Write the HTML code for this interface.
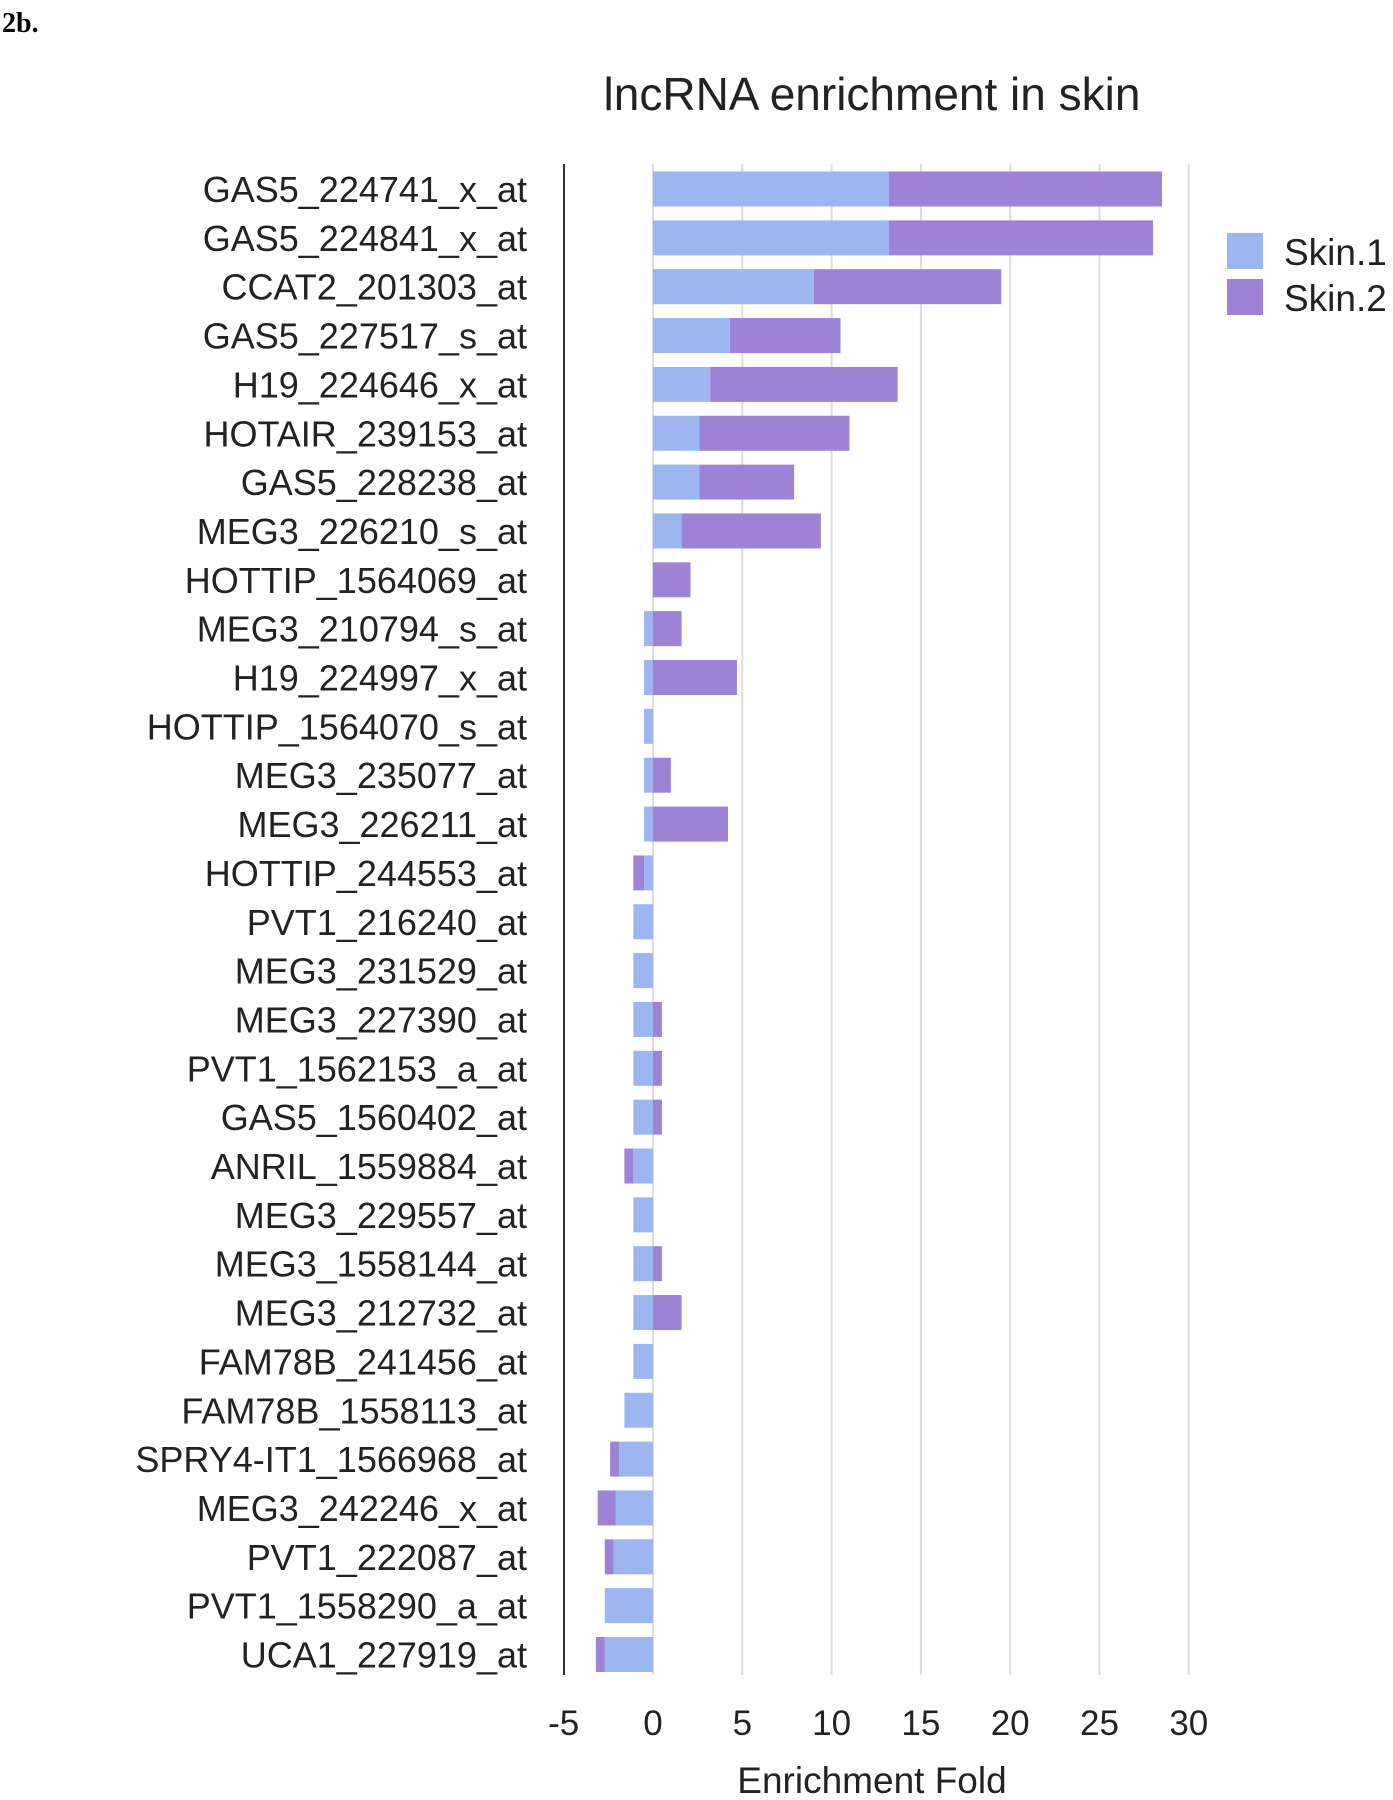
<!DOCTYPE html>
<html><head><meta charset="utf-8"><style>
body{margin:0;background:#fff;}
svg{display:block;font-family:"Liberation Sans",sans-serif;}
</style></head><body>
<svg id="chart" width="1393" height="1800" viewBox="0 0 1393 1800">
<text x="2" y="32" font-family="Liberation Serif" font-weight="bold" font-size="28">2b.</text>
<text x="872" y="110" text-anchor="middle" font-size="46" fill="#222">lncRNA enrichment in skin</text>
<g id="grid"></g><g id="bars"></g><g id="labels"></g><g id="ticks"></g>
<line x1="564" y1="164" x2="564" y2="1675" stroke="#333" stroke-width="2"/>
<text x="872" y="1793" text-anchor="middle" font-size="37" fill="#222">Enrichment Fold</text>
<g>
<rect x="1227" y="233" width="36" height="36" fill="#9db6f2"/>
<text x="1284" y="265" font-size="37" fill="#222">Skin.1</text>
<rect x="1227" y="279" width="36" height="36" fill="#9e82d6"/>
<text x="1284" y="311" font-size="37" fill="#222">Skin.2</text>
</g>
</svg>
<script>
const categories=["GAS5_224741_x_at","GAS5_224841_x_at","CCAT2_201303_at","GAS5_227517_s_at","H19_224646_x_at","HOTAIR_239153_at","GAS5_228238_at","MEG3_226210_s_at","HOTTIP_1564069_at","MEG3_210794_s_at","H19_224997_x_at","HOTTIP_1564070_s_at","MEG3_235077_at","MEG3_226211_at","HOTTIP_244553_at","PVT1_216240_at","MEG3_231529_at","MEG3_227390_at","PVT1_1562153_a_at","GAS5_1560402_at","ANRIL_1559884_at","MEG3_229557_at","MEG3_1558144_at","MEG3_212732_at","FAM78B_241456_at","FAM78B_1558113_at","SPRY4-IT1_1566968_at","MEG3_242246_x_at","PVT1_222087_at","PVT1_1558290_a_at","UCA1_227919_at"];
const skin1=[13.2,13.2,9.0,4.3,3.2,2.6,2.6,1.6,0,-0.5,-0.5,-0.5,-0.5,-0.5,-0.5,-1.1,-1.1,-1.1,-1.1,-1.1,-1.1,-1.1,-1.1,-1.1,-1.1,-1.6,-1.9,-2.1,-2.2,-2.7,-2.7];
const skin2=[15.3,14.8,10.5,6.2,10.5,8.4,5.3,7.8,2.1,1.6,4.7,0,1.0,4.2,-0.6,0,0,0.5,0.5,0.5,-0.5,0,0.5,1.6,0,0,-0.5,-1.0,-0.5,0,-0.5];
const ticks=[-5,0,5,10,15,20,25,30];
const NS="http://www.w3.org/2000/svg";
const x0=653,pxPerUnit=17.86,yTop=189,rowStep=48.85,barH=35;
const xs=v=>x0+v*pxPerUnit, ys=i=>yTop+i*rowStep;
function mk(tag,attrs,parent){const e=document.createElementNS(NS,tag);for(const k in attrs)e.setAttribute(k,attrs[k]);document.getElementById(parent).appendChild(e);return e;}
ticks.forEach(t=>{
  if(t>-5){const g=mk('line',{x1:xs(t),x2:xs(t),y1:164,y2:1675,stroke:'#ddd','stroke-width':2},'grid');
  
  }
  const l=mk('text',{x:xs(t),y:1735,'text-anchor':'middle','font-size':35,fill:'#222'},'ticks');l.textContent=t;
  
  
});
categories.forEach((c,i)=>{
  const cy=ys(i);
  const lab=mk('text',{x:527,y:cy+13,'text-anchor':'end','font-size':36,fill:'#222'},'labels');lab.textContent=c;
  
  
  let pos=0,neg=0;
  [[skin1[i],'#9db6f2','bar-skin1'],[skin2[i],'#9e82d6','bar-skin2']].forEach(([v,col,nm])=>{
    if(v===0)return;
    let a,b;
    if(v>0){a=pos;b=pos+v;pos=b;}else{a=neg+v;b=neg;neg=a;}
    const r=mk('rect',{x:xs(a),y:cy-barH/2,width:xs(b)-xs(a),height:barH,fill:col},'bars');
    
    
  });
});
</script>
</body></html>
